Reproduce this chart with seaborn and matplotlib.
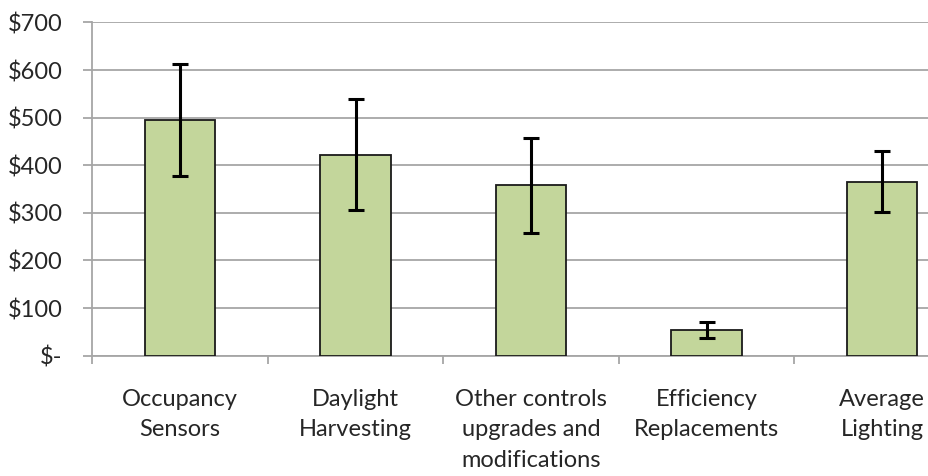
import matplotlib
matplotlib.use("Agg")
import matplotlib.pyplot as plt
import seaborn as sns
import pandas as pd
from matplotlib.ticker import FuncFormatter

# values
categories = ["Occupancy\nSensors", "Daylight\nHarvesting",
              "Other controls\nupgrades and\nmodifications",
              "Efficiency\nReplacements", "Average\nLighting"]
savings = [495, 422, 358, 54, 365]
errors = [118, 117, 100, 16, 64]
y_ticks = [0, 100, 200, 300, 400, 500, 600, 700]

df = pd.DataFrame({"measure": categories, "savings": savings})

sns.set_style("white")
plt.rcParams["font.family"] = ["Lato", "DejaVu Sans"]

fig = plt.figure(figsize=(9.29, 4.76), dpi=100)
ax = fig.add_axes([92.3 / 929, 1 - 355.7 / 476, 877.5 / 929, 333.3 / 476])

sns.barplot(data=df, x="measure", y="savings", ax=ax, color="#C3D69B",
            saturation=1, width=0.4, edgecolor="#1a1a1a", linewidth=1.3,
            errorbar=None, zorder=3)
ax.errorbar(range(len(categories)), savings, yerr=errors, fmt="none",
            ecolor="black", elinewidth=2.2, capsize=6, capthick=2.2, zorder=4)

ax.set_xlim(-0.5, len(categories) - 0.5)
ax.set_ylim(0, 700)
ax.set_yticks(y_ticks)
ax.yaxis.set_major_formatter(FuncFormatter(lambda v, p: "$-" if v == 0 else f"${int(v)}"))
ax.grid(axis="y", color="#A6A6A6", linewidth=1.3, zorder=0)
ax.set_axisbelow(True)

for s in ["top", "right"]:
    ax.spines[s].set_visible(False)
for s in ["left", "bottom"]:
    ax.spines[s].set_color("#A6A6A6")
    ax.spines[s].set_linewidth(1.3)

ax.tick_params(axis="y", length=6.5, width=1.3, color="#A6A6A6", pad=15,
               labelsize=17, labelcolor="#262626", left=True)
ax.tick_params(axis="x", which="major", length=0, pad=24, labelsize=17,
               labelcolor="#262626")
ax.set_xticks([i - 0.5 for i in range(len(categories) + 1)], minor=True)
ax.tick_params(axis="x", which="minor", length=6, width=1.3, color="#A6A6A6",
               bottom=True)
for lbl in ax.get_xticklabels():
    lbl.set_linespacing(1.55)
    lbl.set_verticalalignment("top")

ax.set_xlabel("")
ax.set_ylabel("")

fig.savefig("out.png", dpi=100)
